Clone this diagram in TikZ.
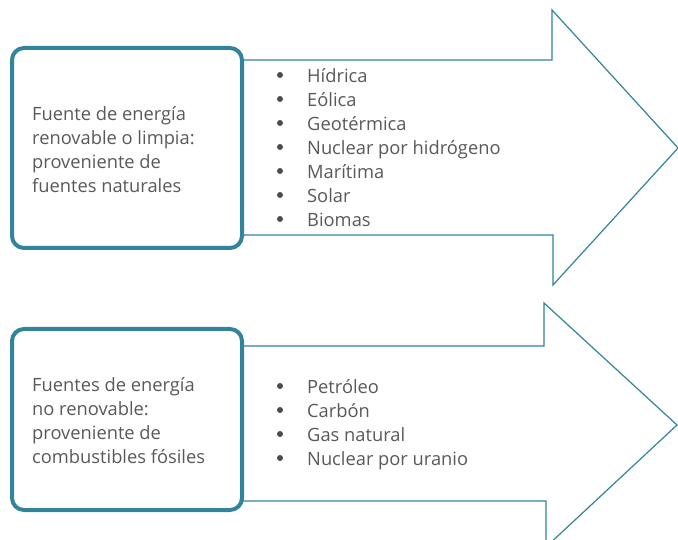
\documentclass[tikz,border=0pt]{standalone}
\usepackage{fontspec}
\setmainfont{Open Sans}
\usetikzlibrary{positioning}
\definecolor{azulpet}{HTML}{31849B}
\definecolor{textogris}{HTML}{595959}
\begin{document}
\begin{tikzpicture}[x=1pt,y=-1pt]
\tikzset{
  caja/.style={draw=azulpet,line width=4pt,rounded corners=12pt,fill=white,minimum width=230pt,minimum height=200pt,inner sep=0pt},
  flecha/.style={draw=azulpet,line width=1.2pt,fill=white,line join=miter},
  etiqueta/.style={text=textogris,font=\fontsize{18.3}{24}\selectfont,align=left,anchor=west,inner sep=0pt},
  item/.style={text=textogris,font=\fontsize{18.3}{24}\selectfont,anchor=mid west,inner sep=0pt},
  punto/.style={circle,fill=black!70,inner sep=0pt,minimum size=6pt}
}
\useasboundingbox (0,0) rectangle (678,540);
\clip (0,0) rectangle (678,540);

% flechas (debajo de las cajas)
\draw[flecha] (242,60) -- (552,60) -- (552,10) -- (678,148) -- (553,285) -- (553,235) -- (242,235) -- cycle;
\draw[flecha] (243,346) -- (544,346) -- (544,303) -- (677,425) -- (546,547) -- (546,501) -- (243,501) -- cycle;

% cajas de la izquierda
\node[caja,minimum height=200pt] (renov) at (127,148) {};
\node[caja,minimum height=181pt] (norenov) at (127,419.5) {};

\node[etiqueta] (trenov) at (32,150) {Fuente de energía\\renovable o limpia:\\proveniente de\\fuentes naturales};
\node[etiqueta] (tnorenov) at (32,421) {Fuentes de energía\\no renovable:\\proveniente de\\combustibles fósiles};

% listas
\foreach \txt [count=\i] in {Hídrica,Eólica,Geotérmica,Nuclear por hidrógeno,Marítima,Solar,Biomas}{
  \node[punto] (pa\i) at (280,51+24*\i) {};
  \node[item] (ia\i) at (307,55.5+24*\i) {\txt};
}
\foreach \txt [count=\i] in {Petróleo,Carbón,Gas natural,Nuclear por uranio}{
  \node[punto] (pb\i) at (280,362+24*\i) {};
  \node[item] (ib\i) at (307,366.5+24*\i) {\txt};
}
\end{tikzpicture}
\end{document}
